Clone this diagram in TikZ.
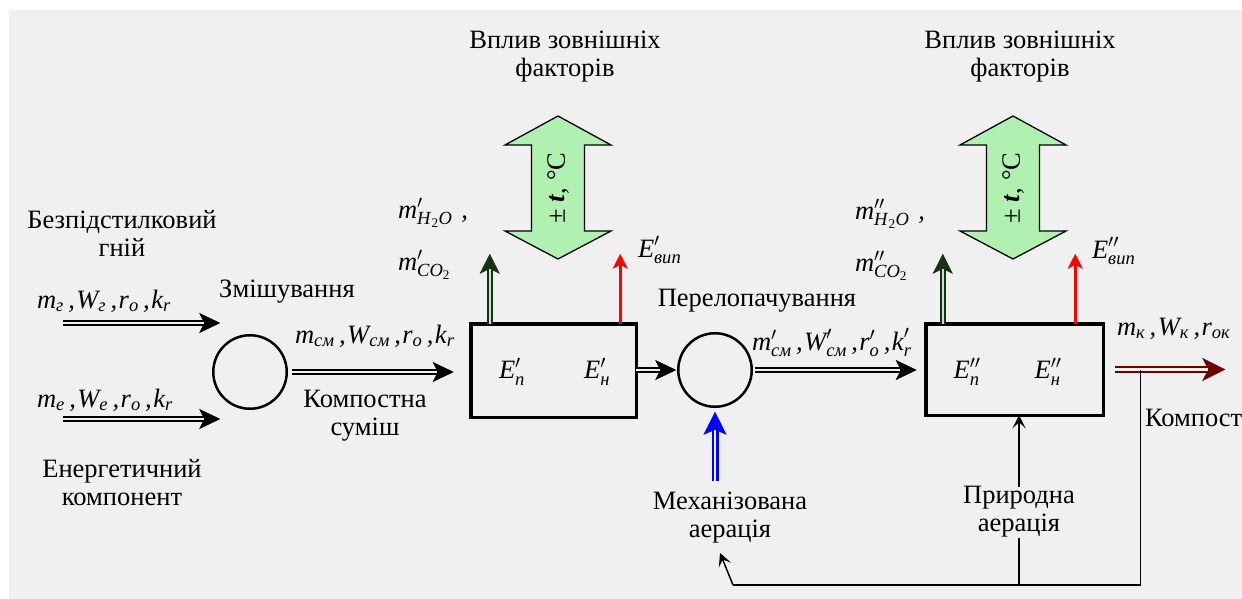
\documentclass[tikz,border=0pt]{standalone}
\usepackage{fix-cm}
\usepackage{amsmath}
\usepackage{fontspec}
\setmainfont{Liberation Serif}
\usetikzlibrary{arrows.meta,calc}
\definecolor{bg}{HTML}{F0F0F0}
\definecolor{lgreen}{RGB}{176,240,176}
\definecolor{dkgreen}{RGB}{20,50,20}
\definecolor{ingreen}{RGB}{200,225,200}
\definecolor{maroonc}{RGB}{110,0,0}
\newcommand\mi[1]{\textit{#1}}
\newcommand\cm{\mkern3mu\mi{,}\mkern1mu}
\tikzset{
  every node/.style={font=\fontsize{26.5}{28}\selectfont, inner sep=0pt, outer sep=0pt, text=black},
  boxn/.style={draw, line width=3.5pt},
  circn/.style={draw, circle, line width=2.5pt, minimum size=73.5pt},
  arrK/.style={draw=black, line width=0.6pt, -{Stealth[length=21pt,width=20pt,inset=5pt]},
     preaction={draw=black,-,line width=5.5pt,shorten >=12pt},
     postaction={draw=bg,-,line width=2pt,shorten >=16.5pt}},
  arrG/.style={draw=dkgreen, line width=0.6pt, -{Stealth[length=20pt,width=20pt,inset=5pt]},
     preaction={draw=dkgreen,-,line width=6.5pt,shorten >=11pt},
     postaction={draw=ingreen,-,line width=2.2pt,shorten >=15.5pt}},
  arrB/.style={draw=blue, line width=0.6pt, -{Stealth[length=23pt,width=23pt,inset=5pt]},
     preaction={draw=blue,-,line width=7pt,shorten >=13pt},
     postaction={draw=bg,-,line width=2.5pt,shorten >=18.5pt}},
  arrR/.style={draw=maroonc, line width=0.6pt, -{Stealth[length=23pt,width=23pt,inset=6pt]},
     preaction={draw=maroonc,-,line width=7pt,shorten >=12pt},
     postaction={draw=bg,-,line width=2.2pt,shorten >=17.5pt}},
  arrRed/.style={draw=red, line width=3pt, -{Stealth[length=15pt,width=15pt,inset=4pt]}},
  thinarr/.style={draw=black, line width=1.5pt, -{Stealth[length=13pt,width=13pt,inset=6pt]}},
  thinln/.style={draw=black, line width=1.5pt},
  bigarr/.style={draw=black, line width=1.3pt, fill=lgreen, line join=miter},
}
\begin{document}
\begin{tikzpicture}[x=1pt,y=-1pt]
\useasboundingbox (0,0) rectangle (1242,599);
\clip (0,0) rectangle (1242,599);
\fill[white] (0,0) rectangle (1242,599);
\fill[bg] (9,10) rectangle (1242,599);

% main blocks
\node[circn] (c1) at (250,372) {};
\node[boxn, minimum width=165.5pt, minimum height=93.5pt] (b1) at (553.5,370.5) {};
\node[circn] (c2) at (715,370) {};
\node[boxn, minimum width=177.5pt, minimum height=91.5pt] (b2) at (1014.5,369.5) {};

\node (e1p) at (512,372) {$\mi{E}'_{\mi{п}}$};
\node (e1n) at (597,372) {$\mi{E}'_{\mi{н}}$};
\node (e2p) at (967,372) {$\mi{E}''_{\mi{п}}$};
\node (e2n) at (1048,372) {$\mi{E}''_{\mi{н}}$};

% text labels
\node[align=center] (gnij) at (122,233) {Безпідстилковий\\гній};
\node[align=center] (energ) at (122,483) {Енергетичний\\компонент};
\node[anchor=base] (zmish) at (287,297) {Змішування};
\node[align=center] (kompsum) at (365,416) {Компостна\\суміш};
\node[align=center] (vplyv1) at (565,57) {Вплив зовнішніх\\факторів};
\node[align=center] (vplyv2) at (1020,57) {Вплив зовнішніх\\факторів};
\node[anchor=base] (perel) at (757,306) {Перелопачування};
\node[align=center] (mech) at (730,518) {Механізована\\аерація};
\node[align=center] (nat) at (1019,512) {Природна\\аерація};
\node[anchor=base west] (kompost) at (1145,426) {Компост};

% formula labels
\node[anchor=base west] (lg) at (37,308) {$\mi{m}_{\mi{г}}\cm\mi{W}_{\mi{г}}\cm\mi{r}_{\mi{o}}\cm\mi{k}_{\mi{r}}$};
\node[anchor=base west] (le) at (37,407) {$\mi{m}_{\mi{е}}\cm\mi{W}_{\mi{е}}\cm\mi{r}_{\mi{o}}\cm\mi{k}_{\mi{r}}$};
\node[anchor=base west] (lsm) at (295,343) {$\mi{m}_{\mi{см}}\cm\mi{W}_{\mi{см}}\cm\mi{r}_{\mi{o}}\cm\mi{k}_{\mi{r}}$};
\node[anchor=base west] (lsm2) at (752,350) {$\mi{m}'_{\mi{см}}\cm\mi{W}'_{\mi{см}}\cm\mi{r}'_{\mi{o}}\cm\mi{k}'_{\mi{r}}$};
\node[anchor=base west] (lk) at (1117,335) {$\mi{m}_{\mi{к}}\cm\mi{W}_{\mi{к}}\cm\mi{r}_{\mi{ок}}$};
\node[anchor=base west] (h2o1) at (398,218) {$\mi{m}'_{\mi{H}\mkern1mu_{\textup{2}}\mi{O}}\mkern6mu\mi{,}$};
\node[anchor=base west] (co21) at (398,270) {$\mi{m}'_{\mi{CO}_{\textup{2}}}$};
\node[anchor=base west] (h2o2) at (855,219) {$\mi{m}''_{\mi{H}\mkern1mu_{\textup{2}}\mi{O}}\mkern6mu\mi{,}$};
\node[anchor=base west] (co22) at (855,271) {$\mi{m}''_{\mi{CO}_{\textup{2}}}$};
\node[anchor=base west] (ev1) at (638,257) {$\mi{E}'_{\mi{вип}}$};
\node[anchor=base west] (ev2) at (1092,258) {$\mi{E}''_{\mi{вип}}$};

% green double block arrows
\draw[bigarr] (558,116) -- (611,145) -- (584.5,145) -- (584.5,231) -- (611,231) -- (558,259)
  -- (505,231) -- (531.5,231) -- (531.5,145) -- (505,145) -- cycle;
\node[rotate=90] (t1) at (558,188) {± \textbf{\textit{t}}, °C};
\draw[bigarr] (1013,116) -- (1066,145) -- (1039.5,145) -- (1039.5,231) -- (1066,231) -- (1013,259)
  -- (960,231) -- (986.5,231) -- (986.5,145) -- (960,145) -- cycle;
\node[rotate=90] (t2) at (1013,188) {± \textbf{\textit{t}}, °C};

% input arrows
\coordinate (in1) at (63,323);
\coordinate (in2) at (63,419);
\draw[arrK] (in1) -- ($(in1 -| c1.west)+(7,0)$);
\draw[arrK] (in2) -- ($(in2 -| c1.west)+(7,0)$);

% main flow arrows
\draw[arrK] ($(c1.east)+(5,0)$) -- ($(b1.west |- c1)+(-17,0)$);
\draw[arrK] (b1.east |- c2) -- ($(c2.west)+(-2,0)$);
\draw[arrK] ($(c2.east)+(3,0)$) -- ($(b2.west |- c2)+(-9,0)$);
\draw[arrR] ([xshift=12pt]b2.east) -- ([xshift=122pt]b2.east);

% up arrows from boxes
\draw[arrG] ([xshift=19pt]b1.north west) -- ++(0,-70);
\draw[arrRed] ([xshift=-16pt]b1.north east) -- ++(0,-70);
\draw[arrG] ([xshift=17pt]b2.north west) -- ++(0,-70);
\draw[arrRed] ([xshift=-28pt]b2.north east) -- ++(0,-70);

% aeration
\draw[arrB] ($(c2 |- mech.north)+(0,-11)$) -- ($(c2.south)+(0,5)$);
\draw[thinarr] (nat.north) -- (nat.north |- b2.south);

% feedback
\coordinate (j) at ([xshift=37pt]b2.east);
\coordinate (fb1) at (j |- 0,585);
\coordinate (fb2) at (733,585);
\coordinate (fbT) at (720,553);
\draw[thinln] (j) -- (fb1) -- (fb2);
\draw[thinarr] (fb2) -- (fbT);
\draw[thinln] (nat.south) -- (nat.south |- fb1);
\end{tikzpicture}
\end{document}
